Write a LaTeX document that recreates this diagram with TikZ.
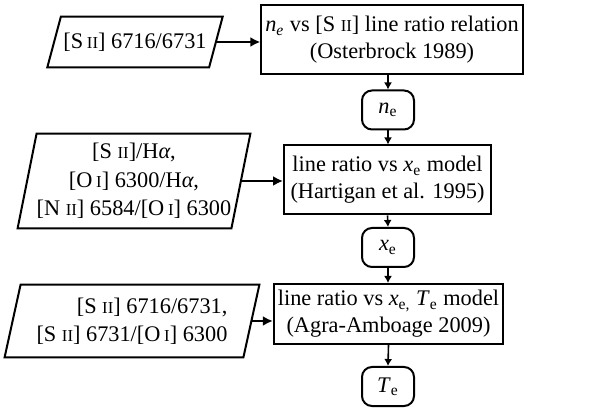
\documentclass[tikz,border=0pt]{standalone}
\usepackage{fontspec}
\setmainfont{Liberation Serif}
\usetikzlibrary{arrows.meta, positioning}
\newcommand{\ionst}[1]{{\fontsize{8.4}{10}\selectfont #1}}

\begin{document}
\begin{tikzpicture}[x=0.5bp, y=-0.5bp,
  modelbox/.style={draw, line width=1bp, align=center, inner sep=2bp, font=\fontsize{11.2}{13.6}\selectfont},
  outbox/.style={draw, line width=1bp, rounded corners=5bp, minimum width=26bp, minimum height=19.5bp, inner sep=0pt, font=\fontsize{11.2}{13.6}\selectfont},
  datain/.style={inner sep=0pt, align=center, font=\fontsize{11.2}{14.2}\selectfont},
  flow/.style={-{Latex[length=5bp, width=5bp]}, line width=1bp},
  smallflow/.style={-{Latex[length=3.5bp, width=4bp]}, line width=0.8bp}
]
  \useasboundingbox (0,0) rectangle (606,412);

  \node[datain, minimum width=80.5bp, minimum height=25bp] (ratioA) at (135,42) {[S\,\ionst{II}] 6716/6731};
  \node[modelbox, minimum width=129bp, minimum height=34.5bp] (osterbrock) at (392,40) {\textit{n\textsubscript{e}} vs [S \ionst{II}] line ratio relation\\(Osterbrock 1989)};
  \node[outbox] (ne) at (388,110) {\textit{n}\textsubscript{e}};

  \node[datain, minimum width=106.5bp, minimum height=47bp] (ratioB) at (134,181) {[S \ionst{II}]/H\textit{α},\\{}[O\,\ionst{I}] 6300/H\textit{α},\\{}[N \ionst{II}] 6584/[O\,\ionst{I}] 6300};
  \node[modelbox, minimum width=103.5bp, minimum height=34.5bp] (hartigan) at (387.5,180) {line ratio vs \textit{x}\textsubscript{e} model\\(Hartigan et al. 1995)};
  \node[outbox] (xe) at (388,247.5) {\textit{x}\textsubscript{e}};

  \node[datain, minimum width=119bp, minimum height=36bp, align=right] (ratioC) at (132,321) {[S \ionst{II}] 6716/6731,\\{}[S \ionst{II}] 6731/[O\,\ionst{I}] 6300};
  \node[modelbox, minimum width=111.5bp, minimum height=30bp] (agra) at (388.5,314) {line ratio vs \textit{x}\textsubscript{e,} \textit{T}\textsubscript{e} model\\(Agra-Amboage 2009)};
  \node[outbox] (te) at (388,386.5) {\textit{T}\textsubscript{e}};

  \foreach \n/\s in {ratioA/3.4, ratioB/4.75, ratioC/4}
    \draw[line width=1bp] ([xshift=-\s bp]\n.south west) -- ([xshift=\s bp]\n.north west)
      -- ([xshift=\s bp]\n.north east) -- ([xshift=-\s bp]\n.south east) -- cycle;

  \draw[flow] (ratioA.east) -- (ratioA.east -| osterbrock.west);
  \draw[flow] (ratioB.east) -- (ratioB.east -| hartigan.west);
  \draw[flow] (ratioC.east) -- (ratioC.east -| agra.west);
  \draw[smallflow] (ne.north |- osterbrock.south) -- (ne.north);
  \draw[smallflow] (ne.south) -- (ne.south |- hartigan.north);
  \draw[smallflow] (hartigan.south) -- (xe.north);
  \draw[smallflow] (xe.south) -- (xe.south |- agra.north);
  \draw[smallflow] (agra.south) -- (te.north);
\end{tikzpicture}
\end{document}
